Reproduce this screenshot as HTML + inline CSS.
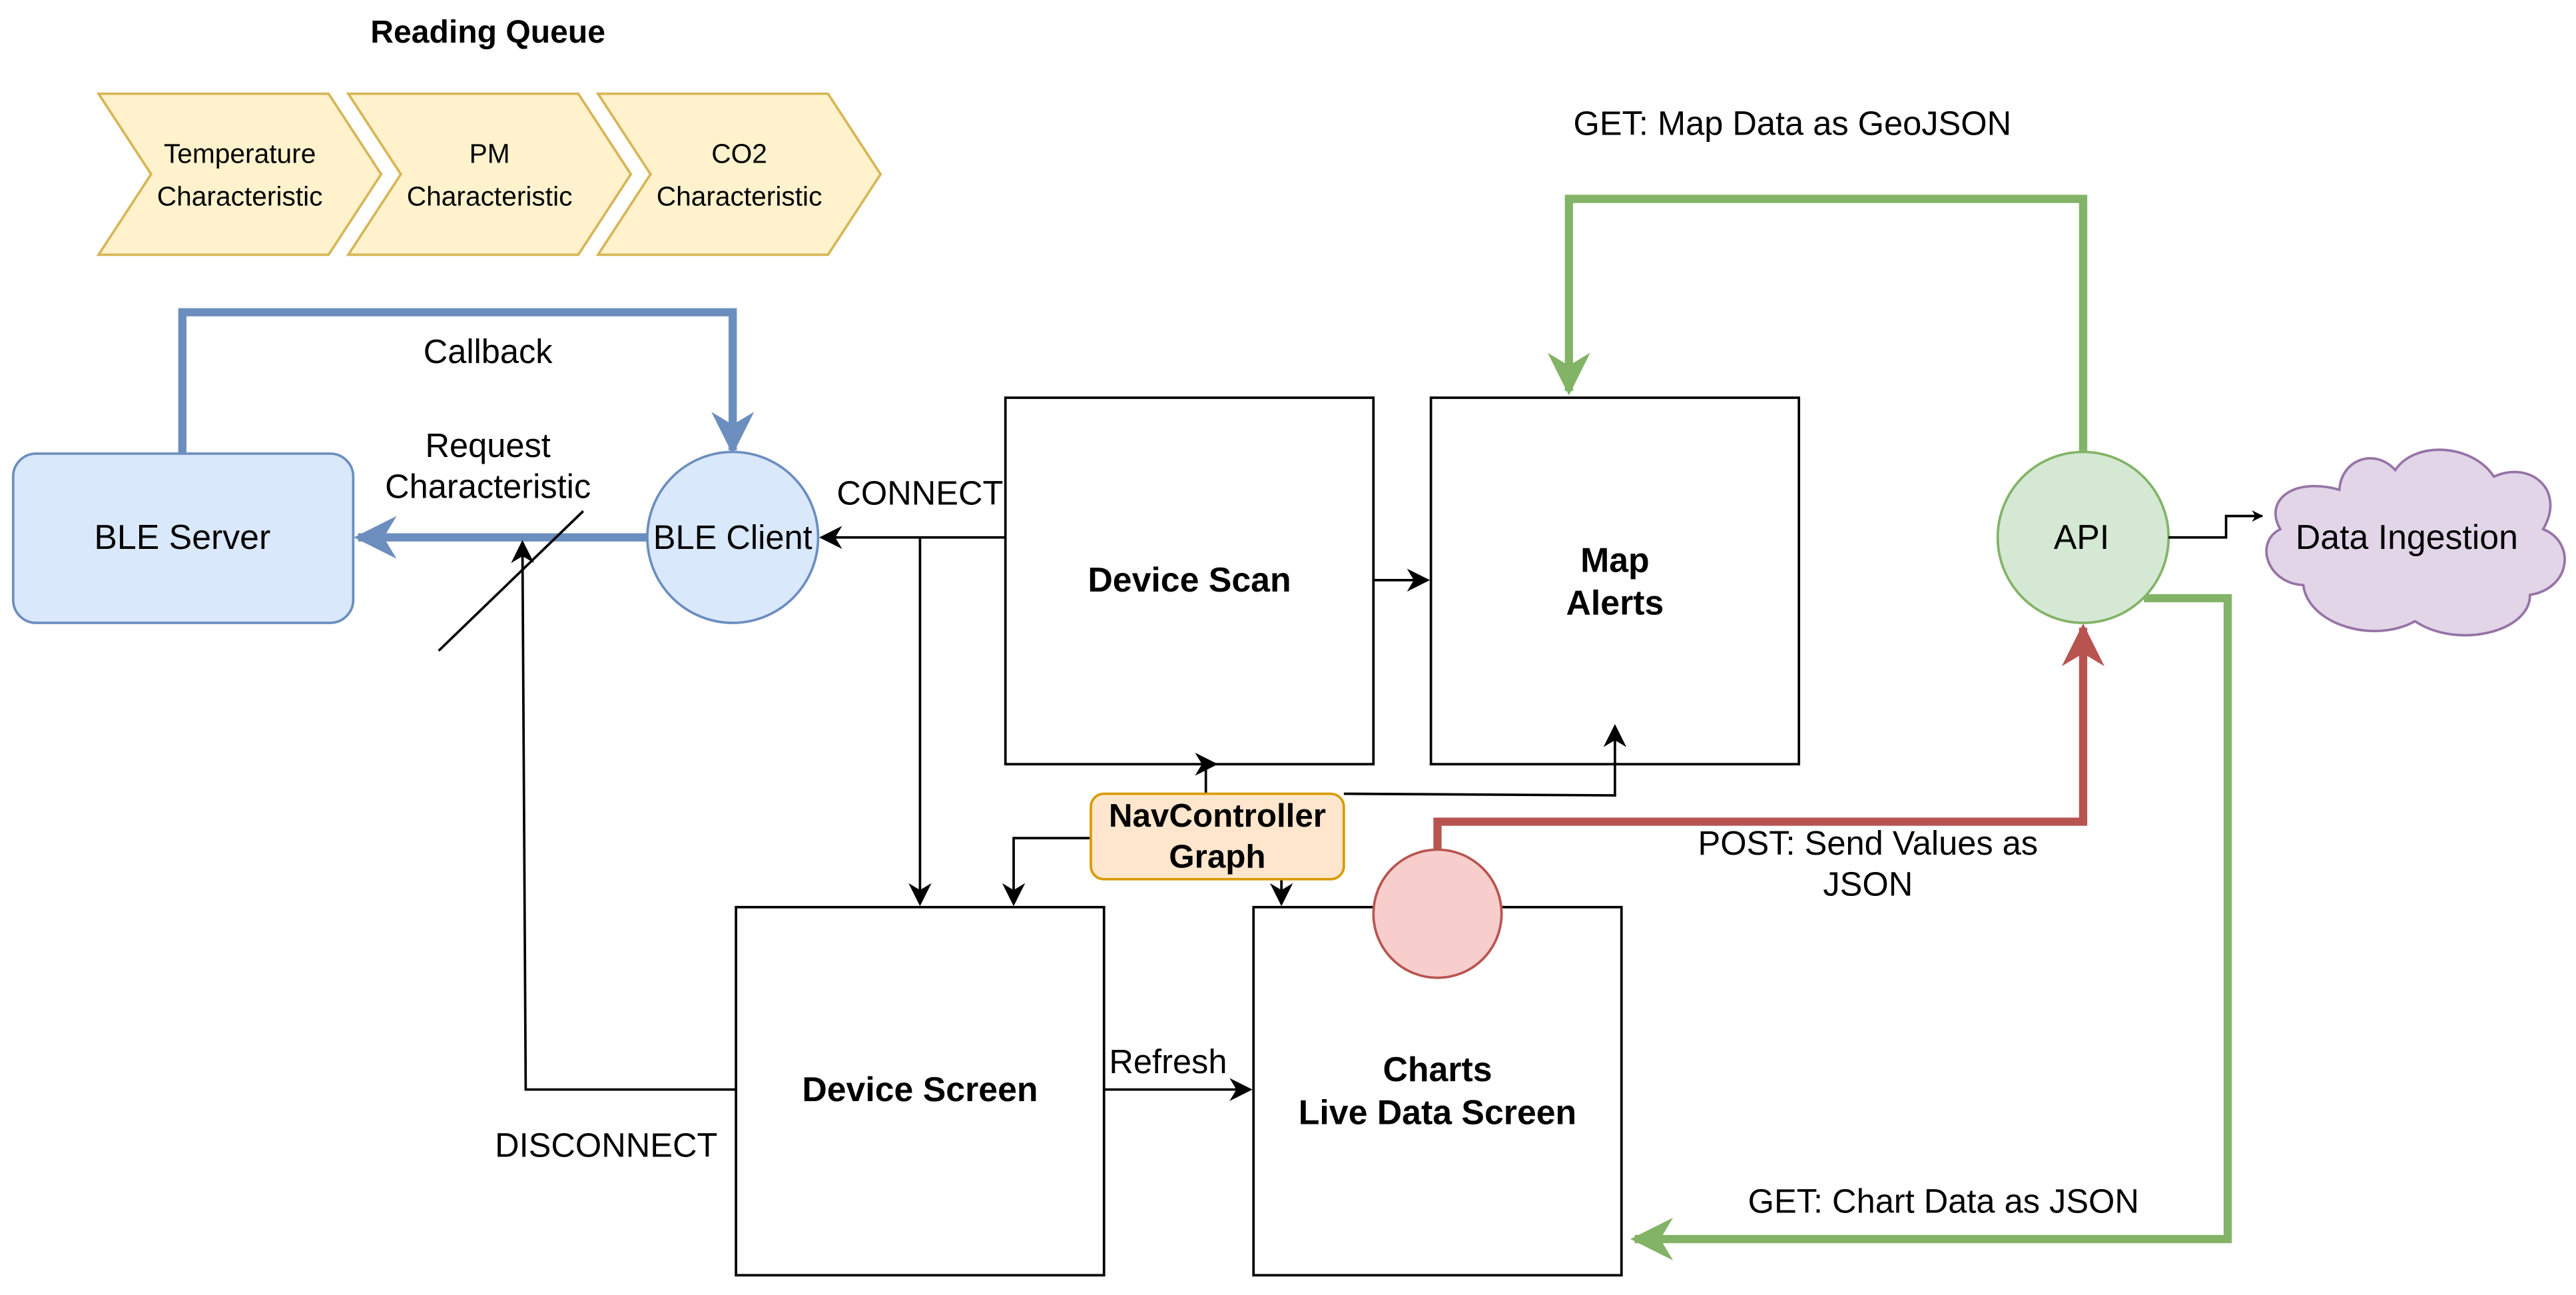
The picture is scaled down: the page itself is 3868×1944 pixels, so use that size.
<!DOCTYPE html>
<html><head><meta charset="utf-8"><style>
html,body{margin:0;padding:0;background:#fff;}
svg{display:block;}
text{font-family:"Liberation Sans",sans-serif;}
</style></head><body>
<svg width="3868" height="1944" viewBox="0 0 1568 788" xmlns="http://www.w3.org/2000/svg">
<defs>
<marker id="ab" viewBox="0 0 10 10" refX="9" refY="5" markerWidth="7" markerHeight="7" orient="auto" markerUnits="userSpaceOnUse"><path d="M0,0 L10,5 L0,10 L3,5 z" fill="#000"/></marker>
<marker id="abk" viewBox="0 0 10 10" refX="9" refY="5" markerWidth="14" markerHeight="14" orient="auto" markerUnits="userSpaceOnUse"><path d="M0,0 L10,5 L0,10 L3,5 z" fill="#000"/></marker>
<marker id="abl" viewBox="0 0 10 10" refX="9" refY="5" markerWidth="26" markerHeight="26" orient="auto" markerUnits="userSpaceOnUse"><path d="M0,0 L10,5 L0,10 L3,5 z" fill="#6c8ebf"/></marker>
<marker id="agr" viewBox="0 0 10 10" refX="9" refY="5" markerWidth="26" markerHeight="26" orient="auto" markerUnits="userSpaceOnUse"><path d="M0,0 L10,5 L0,10 L3,5 z" fill="#82b366"/></marker>
<marker id="ard" viewBox="0 0 10 10" refX="9" refY="5" markerWidth="26" markerHeight="26" orient="auto" markerUnits="userSpaceOnUse"><path d="M0,0 L10,5 L0,10 L3,5 z" fill="#b85450"/></marker>
</defs>

<text x="297" y="26" font-size="19.5" font-weight="bold" text-anchor="middle">Reading Queue</text>
<g fill="#fff2cc" stroke="#d6b656" stroke-width="1.5">
<polygon points="60,57 200,57 232,106 200,155 60,155 92,106"/>
<polygon points="212,57 352,57 384,106 352,155 212,155 244,106"/>
<polygon points="364,57 504,57 536,106 504,155 364,155 396,106"/>
</g>
<g font-size="16.5" text-anchor="middle">
<text x="146" y="99">Temperature</text><text x="146" y="125">Characteristic</text>
<text x="298" y="99">PM</text><text x="298" y="125">Characteristic</text>
<text x="450" y="99">CO2</text><text x="450" y="125">Characteristic</text>
</g>

<polyline points="111,276 111,190 446,190 446,274" fill="none" stroke="#6c8ebf" stroke-width="5" marker-end="url(#abl)"/>
<text x="297" y="221" font-size="20.5" text-anchor="middle">Callback</text>
<rect x="8" y="276" width="207" height="103" rx="14" fill="#dae8fc" stroke="#6c8ebf" stroke-width="1.5"/>
<text x="111" y="334" font-size="21" text-anchor="middle">BLE Server</text>
<line x1="394" y1="327" x2="218" y2="327" stroke="#6c8ebf" stroke-width="5" marker-end="url(#abl)"/>
<circle cx="446" cy="327" r="52" fill="#dae8fc" stroke="#6c8ebf" stroke-width="1.5"/>
<text x="446" y="334" font-size="20.5" text-anchor="middle">BLE Client</text>
<text x="297" y="278" font-size="20.5" text-anchor="middle">Request</text>
<text x="297" y="303" font-size="20.5" text-anchor="middle">Characteristic</text>
<line x1="267" y1="396" x2="355" y2="311" stroke="#000" stroke-width="1.5"/>
<polyline points="448,663 320,663 318,330" fill="none" stroke="#000" stroke-width="1.5" marker-end="url(#abk)"/>
<text x="369" y="704" font-size="20.5" text-anchor="middle">DISCONNECT</text>

<line x1="612" y1="327" x2="500" y2="327" stroke="#000" stroke-width="1.5" marker-end="url(#abk)"/>
<text x="560" y="307" font-size="20.5" text-anchor="middle">CONNECT</text>
<line x1="560" y1="327" x2="560" y2="550" stroke="#000" stroke-width="1.5" marker-end="url(#abk)"/>

<rect x="612" y="242" width="224" height="223" fill="#fff" stroke="#000" stroke-width="1.5"/>
<text x="724" y="360" font-size="21" font-weight="bold" text-anchor="middle">Device Scan</text>
<rect x="871" y="242" width="224" height="223" fill="#fff" stroke="#000" stroke-width="1.5"/>
<text x="983" y="348" font-size="21" font-weight="bold" text-anchor="middle">Map</text>
<text x="983" y="374" font-size="21" font-weight="bold" text-anchor="middle">Alerts</text>
<line x1="836" y1="353" x2="869" y2="353" stroke="#000" stroke-width="1.5" marker-end="url(#abk)"/>

<rect x="448" y="552" width="224" height="224" fill="#fff" stroke="#000" stroke-width="1.5"/>
<text x="560" y="670" font-size="21" font-weight="bold" text-anchor="middle">Device Screen</text>
<rect x="763" y="552" width="224" height="224" fill="#fff" stroke="#000" stroke-width="1.5"/>
<text x="875" y="658" font-size="21" font-weight="bold" text-anchor="middle">Charts</text>
<text x="875" y="684" font-size="21" font-weight="bold" text-anchor="middle">Live Data Screen</text>
<line x1="672" y1="663" x2="761" y2="663" stroke="#000" stroke-width="1.5" marker-end="url(#abk)"/>
<text x="711" y="653" font-size="20.5" text-anchor="middle">Refresh</text>

<polyline points="734,483 734,465 740,465" fill="none" stroke="#000" stroke-width="1.5" marker-end="url(#abk)"/>
<polyline points="818,483 983,484 983,442" fill="none" stroke="#000" stroke-width="1.5" marker-end="url(#abk)"/>
<polyline points="664,510 617,510 617,550" fill="none" stroke="#000" stroke-width="1.5" marker-end="url(#abk)"/>
<line x1="780" y1="535" x2="780" y2="550" stroke="#000" stroke-width="1.5" marker-end="url(#abk)"/>
<rect x="664" y="483" width="154" height="52" rx="8" fill="#ffe6cc" stroke="#d79b00" stroke-width="1.5"/>
<text x="741" y="503" font-size="20" font-weight="bold" text-anchor="middle">NavController</text>
<text x="741" y="528" font-size="20" font-weight="bold" text-anchor="middle">Graph</text>

<polyline points="875,517 875,500 1268,500 1268,382" fill="none" stroke="#b85450" stroke-width="5" marker-end="url(#ard)"/>
<circle cx="875" cy="556" r="39" fill="#f8cecc" stroke="#b85450" stroke-width="1.5"/>
<text x="1137" y="520" font-size="20.5" text-anchor="middle">POST: Send Values as</text>
<text x="1137" y="545" font-size="20.5" text-anchor="middle">JSON</text>

<polyline points="1268,275 1268,121 955,121 955,238" fill="none" stroke="#82b366" stroke-width="5" marker-end="url(#agr)"/>
<text x="1091" y="82" font-size="20.5" text-anchor="middle">GET: Map Data as GeoJSON</text>
<polyline points="1305,364 1356,364 1356,754 995,754" fill="none" stroke="#82b366" stroke-width="5" marker-end="url(#agr)"/>
<text x="1183" y="738" font-size="20.5" text-anchor="middle">GET: Chart Data as JSON</text>
<circle cx="1268" cy="327" r="52" fill="#d5e8d4" stroke="#82b366" stroke-width="1.5"/>
<text x="1267" y="334" font-size="21" text-anchor="middle">API</text>

<polyline points="1320,327 1355,327 1355,314 1377,314" fill="none" stroke="#000" stroke-width="1.5" marker-end="url(#ab)"/>
<path d="M1424,298 C1395,290 1378,305 1388,322 C1372,330 1380,355 1402,356 C1405,380 1445,392 1470,378 C1495,395 1540,385 1540,362 C1565,358 1568,330 1548,322 C1562,298 1540,280 1518,290 C1505,270 1470,268 1458,286 C1445,272 1425,280 1424,298 Z" fill="#e1d5e7" stroke="#9673a6" stroke-width="1.5"/>
<text x="1465" y="334" font-size="21" text-anchor="middle">Data Ingestion</text>
</svg>
</body></html>
